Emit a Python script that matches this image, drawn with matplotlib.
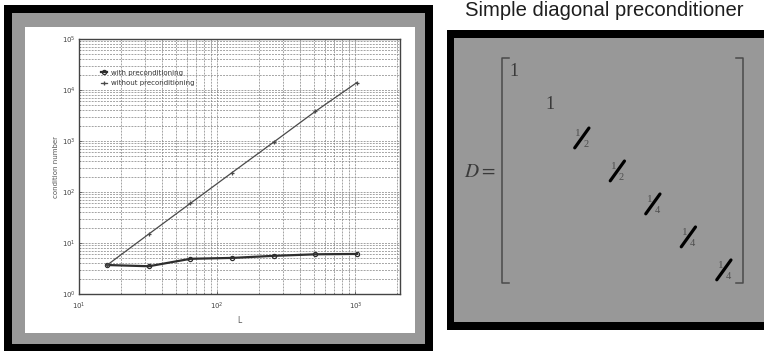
import matplotlib.pyplot as plt
from matplotlib.patches import Rectangle
from matplotlib.lines import Line2D

# Scanned plot data (left panel)
L_values = [16, 32, 64, 128, 256, 512, 1024]
cond_without = [3.7, 15, 60, 240, 950, 3800, 14000]
cond_with = [3.7, 3.5, 4.9, 5.1, 5.6, 6.0, 6.1]
series_labels = ["with preconditioning", "without preconditioning"]

# Matrix on the right panel
title_text = "Simple diagonal preconditioner"
diag_entries = ["1", "1", "1/2", "1/2", "1/4", "1/4", "1/4"]

W, H = 764, 351
GRAY = "#989898"

plt.rcParams["mathtext.fontset"] = "stix"


def box(x0, y0, x1, y1):
    """Pixel box (top-left origin) -> figure fraction [l, b, w, h]."""
    return [x0 / W, 1 - y1 / H, (x1 - x0) / W, (y1 - y0) / H]


def rect(fig, x0, y0, x1, y1, color, z):
    l, b, w, h = box(x0, y0, x1, y1)
    fig.add_artist(Rectangle((l, b), w, h, transform=fig.transFigure,
                             color=color, lw=0, zorder=z))


fig = plt.figure(figsize=(W / 100, H / 100), dpi=100)
fig.patch.set_facecolor("white")

# left frame: black, gray, white paper
rect(fig, 4, 5, 433, 351, "black", -3)
rect(fig, 12, 13, 425, 344, GRAY, -2)
rect(fig, 25, 27, 415, 333, "white", -1)

# right frame
rect(fig, 447, 30, 764, 330, "black", -3)
rect(fig, 454, 38, 764, 322, GRAY, -2)

fig.text(604 / W, 1 - 16.5 / H, title_text, ha="center", va="baseline",
         fontsize=14.6, family="Liberation Sans", color="#1e1e1e")

# ---- scanned log-log plot ----
ax = fig.add_axes(box(79, 39, 400, 294))
ax.set_facecolor("white")
ax.set_xscale("log")
ax.set_yscale("log")
ax.set_xlim(10, 2100)
ax.set_ylim(1, 1e5)
ax.grid(which="both", ls=(0, (2.5, 1.5)), lw=0.55, color="#8a8a8a")
ax.plot(L_values, cond_with, color="#2e2e2e", lw=1.6, marker="o", ms=3,
        mfc="none", mew=0.9, label=series_labels[0])
ax.plot(L_values, cond_without, color="#4a4a4a", lw=0.9, marker="+", ms=3.5,
        mew=0.9, label=series_labels[1])
for s in ax.spines.values():
    s.set_color("#444444")
    s.set_linewidth(1.0)
ax.tick_params(which="both", direction="in", labelsize=5, colors="#444444",
               length=2, width=0.5)
ax.tick_params(axis="x", pad=4.5)
ax.tick_params(axis="y", pad=2.5)
ax.tick_params(which="minor", length=1)
ax.set_xlabel("L", fontsize=5.5, color="#555555", labelpad=3)
ax.set_ylabel("condition number", fontsize=5, color="#555555", labelpad=2)
leg = ax.legend(loc="upper left", bbox_to_anchor=(0.06, 0.89), fontsize=5,
                frameon=False, handlelength=0.8, handletextpad=0.6,
                labelspacing=0.6, borderaxespad=0)
for t in leg.get_texts():
    t.set_color("#333333")

# ---- diagonal matrix ----
mx = fig.add_axes(box(454, 38, 764, 322))
mx.set_xlim(-1.6, 7.13)
mx.set_ylim(7.58, -1.03)
mx.axis("off")

serif = "Liberation Serif"
ink = "#3a3a3a"
for i, entry in enumerate(diag_entries):
    if "/" in entry:
        num, den = entry.split("/")
        mx.text(i - 0.1, i - 0.14, num, ha="center", va="center",
                fontsize=8, family=serif, color="#4e4e4e")
        mx.text(i + 0.12, i + 0.2, den, ha="center", va="center",
                fontsize=7.5, family=serif, color="#4e4e4e")
        mx.add_line(Line2D([i - 0.2, i + 0.2], [i + 0.3, i - 0.3],
                           color="black", lw=2.3, solid_capstyle="round"))
    else:
        mx.text(i + 0.1, i, entry, ha="center", va="center", fontsize=13,
                family=serif, color=ink)

mx.text(-0.87, 3.03, r"$D=$", ha="center", va="center", fontsize=14,
        color=ink)

# brackets
top, bot = -0.424, 6.39
for xb, d in [(-0.248, 0.2), (6.54, -0.2)]:
    mx.add_line(Line2D([xb + d, xb, xb, xb + d], [top, top, bot, bot],
                       color="#4a4a4a", lw=1.1))

fig.savefig("out.png", dpi=100)
